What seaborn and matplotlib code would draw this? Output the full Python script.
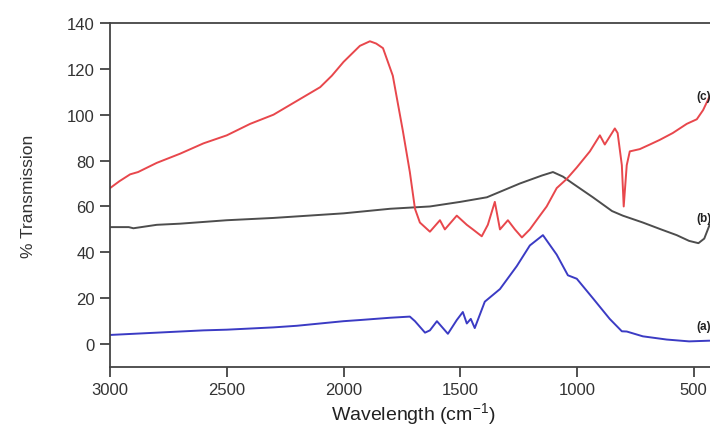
import matplotlib
matplotlib.use("Agg")
from matplotlib import pyplot as plt
import seaborn as sns

# FTIR spectra
wavenumber_a = [3000, 2900, 2800, 2700, 2600, 2500, 2400, 2300, 2200, 2100, 2000, 1930, 1800,
                1716, 1694, 1651, 1630, 1600, 1553, 1515, 1489, 1472, 1455, 1438, 1395,
                1330, 1258, 1202, 1146, 1087, 1039, 1001, 932, 860, 808, 787, 718, 616, 520, 432]
trans_a = [4, 4.5, 5, 5.5, 6, 6.3, 6.8, 7.3, 8, 9, 10, 10.5, 11.5,
           12, 10, 5, 6, 10, 4.5, 10.5, 14, 9, 11, 7, 18.5,
           24, 34, 43, 47.5, 39, 30, 28.5, 20, 11, 5.6, 5.5, 3.4, 2, 1.2, 1.5]

wavenumber_b = [3000, 2920, 2900, 2800, 2700, 2500, 2300, 2000, 1800, 1630, 1500, 1386,
                1245, 1150, 1103, 1060, 1018, 932, 850, 804, 718, 640, 573, 520, 480, 455, 432]
trans_b = [51, 51, 50.5, 52, 52.5, 54, 55, 57, 59, 60, 62, 64,
           70, 73.5, 75, 73, 70, 64, 58, 56, 53, 50, 47.5, 45, 44, 46, 52]

wavenumber_c = [3000, 2960, 2914, 2880, 2800, 2700, 2600, 2500, 2400, 2300, 2200, 2150, 2100,
                2050, 2000, 1960, 1930, 1887, 1860, 1831, 1789, 1746, 1716, 1694, 1673,
                1630, 1587, 1566, 1515, 1472, 1446, 1408, 1382, 1352, 1330, 1296, 1266,
                1236, 1202, 1159, 1130, 1087, 1044, 1001, 945, 902, 881, 838, 826, 808,
                800, 787, 774, 731, 688, 646, 590, 530, 487, 460, 432]
trans_c = [68, 71, 74, 75, 79, 83, 87.5, 91, 96, 100, 106, 109, 112,
           117, 123, 127, 130, 132, 131, 129, 117, 93, 75, 59, 53,
           49, 54, 50, 56, 52, 50, 47, 52, 62, 50, 54, 50,
           46.5, 50, 56, 60, 68, 72, 77, 84, 91, 87, 94, 92, 78,
           60, 78, 84, 85, 87, 89, 92, 96, 98, 102, 108]

series_labels = ["(a)", "(b)", "(c)"]
label_y = [8, 55, 108]

sns.set_style("ticks")
plt.rcParams['font.family'] = ['Liberation Sans', 'DejaVu Sans']
plt.rcParams['mathtext.fontset'] = 'custom'
plt.rcParams['mathtext.rm'] = 'Liberation Sans'
plt.rcParams['mathtext.default'] = 'regular'

fig = plt.figure(figsize=(7.1, 4.27), dpi=100)
ax = fig.add_axes([0.155, 0.138, 0.855, 0.806])

sns.lineplot(x=wavenumber_a, y=trans_a, color='#3b3bc4', linewidth=1.4, ax=ax)
sns.lineplot(x=wavenumber_b, y=trans_b, color='#4d4d4d', linewidth=1.4, ax=ax)
sns.lineplot(x=wavenumber_c, y=trans_c, color='#e8474c', linewidth=1.4, ax=ax)

for lab, yy in zip(series_labels, label_y):
    ax.text(490, yy, lab, fontsize=8.5, fontweight='bold', color='#222222', va='center', ha='left')

ax.set_xlim(3000, 400)
ax.set_ylim(-10, 140)
ax.set_xticks([3000, 2500, 2000, 1500, 1000, 500])
ax.set_yticks(range(0, 141, 20))
ax.tick_params(direction='out', length=7, width=1.2, colors='#333333', labelsize=12, pad=4)
for s in ax.spines.values():
    s.set_color('#444444')
    s.set_linewidth(1.3)

ax.set_xlabel('Wavelength (cm$^{-1}$)', fontsize=14, color='#222222', labelpad=2)
ax.set_ylabel('% Transmission', fontsize=12.5, color='#333333', labelpad=22)

fig.savefig('out.png', dpi=100)
